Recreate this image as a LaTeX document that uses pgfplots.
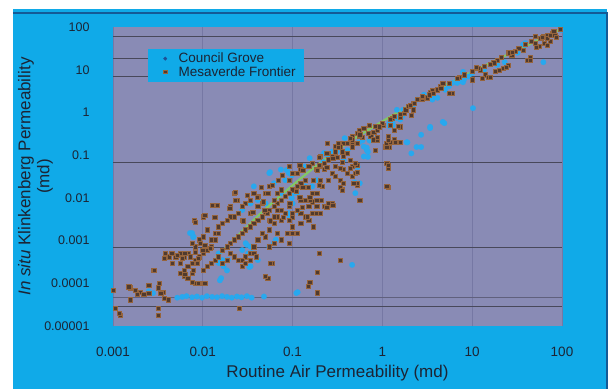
\documentclass[border=0pt]{standalone}
\usepackage{pgfplots}
\pgfplotsset{compat=1.18}
\usepackage{fontspec}
\setmainfont{Liberation Sans}
\definecolor{bgblue}{RGB}{16,170,232}
\definecolor{plotbg}{RGB}{137,139,181}
\definecolor{gridc}{RGB}{72,72,90}
\definecolor{gridl}{RGB}{96,96,125}
\definecolor{vgrid}{RGB}{118,120,164}
\definecolor{cgblue}{RGB}{40,168,238}
\definecolor{cgleg}{RGB}{30,80,150}
\definecolor{mvfill}{RGB}{80,58,46}
\definecolor{mvdraw}{RGB}{150,100,60}
\definecolor{fitgreen}{RGB}{130,200,100}
\definecolor{txt}{RGB}{28,36,52}
\definecolor{framec}{RGB}{20,90,150}
\begin{document}
\begin{tikzpicture}
\path[use as bounding box] (0pt,0pt) rectangle (615pt,389pt);
\fill[white] (0pt,0pt) rectangle (615pt,389pt);
\fill[bgblue] (13pt,0pt) rectangle (607pt,380pt);
\draw[framec, line width=1.2pt] (13pt,376pt) -- (607pt,376pt) -- (607pt,0pt);
\begin{axis}[
  at={(113pt,63pt)}, anchor=south west,
  scale only axis, width=449pt, height=299pt,
  xmode=log, ymode=log,
  xmin=0.001, xmax=100, ymin=0.00001, ymax=100,
  axis background/.style={fill=plotbg},
  axis line style={draw=none},
  major tick length=0pt, minor tick length=0pt,
  xtick={0.001,0.01,0.1,1,10,100},
  xticklabels={0.001,0.01,0.1,1,10,100},
  ytick={0.00001,0.0001,0.001,0.01,0.1,1,10,100},
  yticklabels={0.00001,0.0001,0.001,0.01,0.1,1,10,100},
  xmajorgrids=true,
  x grid style={draw=vgrid, line width=0.6pt},
  extra y ticks={59,18.6,6.8,0.069,0.0007,2.8e-5},
  extra y tick labels={},
  extra y tick style={ymajorgrids=true, grid style={draw=gridc, line width=0.9pt}},
  yticklabel style={font=\fontsize{12.5}{14}\selectfont, text=txt, xshift=-20pt},
  xticklabel style={font=\fontsize{13.5}{15}\selectfont, text=txt, yshift=-18pt},
  xlabel={Routine Air Permeability (md)},
  ylabel={\textit{In situ} Klinkenberg Permeability\\(md)},
  xlabel style={at={(axis description cs:0.5,0)}, anchor=center, yshift=-47pt, font=\fontsize{17}{19}\selectfont, text=txt},
  ylabel style={at={(axis description cs:-0.1726,0.5)}, anchor=center, align=center, font=\fontsize{17}{19}\selectfont, text=txt},
  legend style={at={(axis description cs:0.078,0.927)}, anchor=north west, fill=bgblue, draw=none,
    font=\fontsize{13.5}{14}\selectfont, text=txt, inner xsep=7pt, inner ysep=2.5pt, row sep=-1pt,
    nodes={inner sep=1.5pt}},
  legend cell align=left,
  legend image code/.code={\path[draw=none,fill=none] (0pt,-3pt) rectangle (22pt,3pt); \draw[#1, mark size=1.7pt] plot coordinates {(10pt,0pt)};},
]
\addplot[forget plot, draw=gridl, line width=0.7pt] coordinates {(0.001,4.8e-5) (100,4.8e-5)};
\addplot[only marks, mark=*, mark size=2.8pt, mark options={fill=cgblue, draw=cgblue, line width=0.1pt},
  legend image post style={mark options={fill=cgleg, draw=cgleg}}] coordinates {
(98,85) (39,38) (62,15) (32,25) (23,15) (19,13) (10,8.3) (7.9,5.1) (6.8,4.9) (4.1,2.2) (3.6,2)
(10.2,1.26) (4.7,0.6) (3.4,0.46) (39,42) (7.9,8.9) (6.8,5.8) (1.7,1.15) (1.45,1.15) (1.2,0.56)
(4.9,0.56) (3.4,0.43) (2.7,0.3) (2.7,0.155) (2.1,0.11) (1.9,0.2) (1.3,0.56) (1.2,0.48)
(0.72,0.22) (0.67,0.15) (0.69,0.091) (0.53,0.053) (0.49,0.023) (37,39) (13.5,10) (9.1,6.9)
(8.1,5.9) (7.4,5.4) (6,4.9) (5.5,4.1) (5,3.4) (1.74,0.95) (1.66,0.81) (1.58,0.68) (1.23,0.62)
(1.43,0.74) (2.15,1.38) (2.45,2.0) (3.7,2.4) (2.9,2.6)
(0.056,0.04) (0.086,0.045) (0.098,0.034) (0.1,0.0128) (0.098,0.0099) (0.12,0.0044) (0.093,0.0036)
(0.22,0.069) (0.155,0.085) (0.31,0.12) (0.41,0.13) (0.6,0.22) (0.67,0.13) (0.79,0.33) (0.56,0.022)
(0.38,0.25) (1.86,0.2) (2.4,0.155) (1.3,0.5)
(0.055,0.038) (0.074,0.046) (0.091,0.038) (0.083,0.026) (0.062,0.022) (0.037,0.0186) (0.041,0.0089)
(0.034,0.0074) (0.0275,0.0052) (0.05,0.0074) (0.074,0.0129) (0.1,0.0074) (0.091,0.0044)
(0.112,0.0129) (0.138,0.0186) (0.166,0.0186) (0.186,0.026) (0.138,0.054) (0.204,0.093)
(0.224,0.112) (0.275,0.12) (0.25,0.093) (0.37,0.078) (0.62,0.093) (0.62,0.158) (0.55,0.2)
(0.5,0.0129) (0.69,0.12)
(0.0076,0.0015) (0.0079,0.00123) (0.015,0.0005) (0.0166,0.00035) (0.015,0.0003) (0.017,0.00025)
(0.0186,0.0002) (0.016,0.000132) (0.0275,0.0006) (0.030,0.00087) (0.034,0.00072) (0.032,0.0005)
(0.034,0.00025) (0.041,0.00035) (0.062,0.00087) (0.065,0.00105) (0.055,0.00072) (0.0072,0.0015)
(0.0078,0.0012) (0.0155,0.0003) (0.019,0.00035) (0.0155,0.000117) (0.031,0.00079) (0.033,0.00024)
(0.035,0.00051)
(0.0052,0.000046) (0.0059,0.000048) (0.0066,0.00005) (0.0076,0.000047) (0.0086,0.000049)
(0.0098,0.000046) (0.0111,0.00005) (0.0127,0.000048) (0.0144,0.000047) (0.0164,0.00005)
(0.0186,0.000048) (0.021,0.000046) (0.024,0.000049) (0.027,0.000047) (0.031,0.00005)
(0.035,0.000046) (0.048,0.000049) (0.0028,0.000059) (0.0025,0.000065) (0.11,0.000059)
(0.114,0.000062) (0.46,0.00027)
};
\addlegendentry{Council Grove}
\addplot[only marks, mark=square*, mark size=2.1pt, mark options={fill=mvfill, draw=mvdraw, line width=0.5pt}] coordinates {
(95,87) (78,72) (68,63) (58,55) (50,60) (63,42) (74,46) (55,35) (45,46) (39,39) (33,32) (30,27)
(27.5,22) (25,25) (21,20) (19,17) (17.4,14.5) (15.8,13.2) (13.5,12) (12.3,10) (11.2,11) (10,9.1)
(14,7.6) (12.9,6.3) (18,9.1) (22,11) (25,13) (41,17) (50,42) (68,55) (81,79) (62,59) (83,65)
(69,38) (52,34) (44,19) (26,25) (20,9.8) (24,11.5) (15,6.8) (11.5,11) (10,5.8) (7.2,6.8) (6,2.8)
(4.4,4) (3.4,3) (2.8,2) (2.2,1.15) (2.1,0.87)
(1.2,0.15) (1.3,0.2) (1.12,0.066) (1.15,0.05) (1.15,0.018) (0.52,0.02) (0.53,0.058) (1.58,0.46)
(0.8,0.35) (0.87,0.22) (0.46,0.2) (0.44,0.077) (4.7,4.9) (5.6,2.8) (3.6,3.3) (2.8,2.3) (2.2,1.66)
(1.86,1.15) (1.58,0.78) (1.3,0.74) (1.02,0.5) (0.87,0.39) (0.72,0.33) (0.6,0.26) (0.52,0.19)
(11.2,11.5) (15.8,6.8) (44,17) (52,34) (74,65) (87,58) (60,58) (37,29) (28,26)
(1.23,0.68) (1.35,0.81) (1.58,0.89) (1.74,0.95) (1.82,1.15) (1.95,1.38) (2.04,1.5) (2.24,1.66)
(2.45,2.0) (2.75,2.4) (3.16,2.2) (3.3,2.6) (3.7,2.8) (4.07,3.4) (4.47,3.7) (5.5,4.9) (6.8,6.3) (8.1,7.6)
(0.55,0.39) (0.525,0.33) (0.46,0.275) (0.46,0.158) (0.41,0.112) (0.37,0.093) (0.62,0.43) (0.74,0.275)
(0.79,0.23) (0.83,0.132) (1.07,0.158) (1.12,0.19) (1.17,0.275) (1.23,0.2) (1.35,0.23) (1.58,0.2)
(1.12,0.065) (1.17,0.05) (1.12,0.0186) (1.23,0.51) (1.35,0.39) (1.51,0.47) (0.37,0.19) (0.46,0.23)
(0.55,0.275) (0.69,0.33) (0.83,0.47) (1.0,0.56) (0.3,0.158) (0.25,0.112) (0.204,0.093) (0.166,0.065)
(0.151,0.054) (0.186,0.046)
(0.34,0.158) (0.3,0.132) (0.275,0.093) (0.25,0.078) (0.224,0.065) (0.204,0.054) (0.224,0.046)
(0.275,0.038) (0.3,0.0316) (0.34,0.026) (0.355,0.0155) (0.37,0.022) (0.46,0.054) (0.5,0.065)
(0.525,0.022) (0.55,0.0089) (0.275,0.0074) (0.25,0.0069) (0.224,0.0063) (0.204,0.0089)
(0.186,0.0089) (0.166,0.0081) (0.186,0.0129) (0.214,0.0186) (0.204,0.026) (0.25,0.026) (0.3,0.054)
(0.37,0.046) (0.41,0.038) (0.46,0.0316) (0.48,0.022) (0.5,0.038) (0.34,0.05)
(0.138,0.026) (0.123,0.022) (0.112,0.0186) (0.1,0.0155) (0.091,0.0129) (0.083,0.0107) (0.074,0.0089)
(0.068,0.0074) (0.062,0.0063) (0.055,0.0052) (0.05,0.0044) (0.046,0.0036) (0.041,0.003)
(0.037,0.0026) (0.034,0.0021) (0.030,0.0018) (0.0275,0.0015) (0.025,0.00123) (0.0224,0.00105)
(0.0204,0.00087) (0.0186,0.00072) (0.0166,0.0006)
(0.138,0.0089) (0.166,0.0129) (0.151,0.0063) (0.123,0.0044) (0.112,0.0052) (0.1,0.0036)
(0.091,0.0063) (0.083,0.0044) (0.074,0.003) (0.068,0.0036) (0.062,0.0026) (0.055,0.0018)
(0.05,0.00123) (0.046,0.0015) (0.041,0.00105) (0.037,0.00072) (0.034,0.0005) (0.030,0.00042)
(0.0275,0.00035) (0.037,0.0005) (0.055,0.00072) (0.062,0.00087) (0.091,0.00087) (0.087,0.0015)
(0.112,0.0015) (0.138,0.0036) (0.123,0.0089) (0.166,0.0044) (0.074,0.00105) (0.068,0.0015)
(0.055,0.003) (0.062,0.0036) (0.074,0.0052) (0.091,0.003) (0.1,0.0021) (0.123,0.0026) (0.151,0.003)
(0.186,0.0044) (0.158,0.0089) (0.204,0.0044) (0.25,0.0074) (0.186,0.0063)
(0.055,0.0186) (0.05,0.0129) (0.041,0.0107) (0.037,0.0129) (0.034,0.0089) (0.030,0.0074)
(0.0275,0.0063) (0.0224,0.0129) (0.024,0.0089) (0.025,0.0044) (0.0204,0.0036) (0.0186,0.003)
(0.0166,0.0026) (0.015,0.0021) (0.0138,0.0015) (0.0123,0.00105) (0.0112,0.0018) (0.0102,0.00123)
(0.0091,0.00105) (0.0102,0.0036) (0.0224,0.0036) (0.0204,0.0063) (0.0275,0.003) (0.034,0.0044)
(0.041,0.0063) (0.046,0.0074) (0.062,0.0089) (0.068,0.0129) (0.074,0.0155) (0.091,0.026)
(0.1,0.038) (0.112,0.038) (0.123,0.046) (0.091,0.054)
(0.245,0.19) (0.32,0.19) (0.41,0.19) (0.44,0.25) (0.56,0.3) (0.87,0.26) (1.15,0.22) (1.38,0.2)
(0.93,0.46) (0.72,0.5) (1.12,0.15) (1.15,0.058) (0.3,0.12) (0.31,0.091) (0.36,0.069) (0.44,0.05)
(0.52,0.04) (0.34,0.018) (0.36,0.015) (0.56,0.0089) (0.2,0.091) (0.24,0.053) (0.19,0.045)
(0.17,0.026) (0.2,0.02) (0.21,0.0089) (0.24,0.006) (0.28,0.0068) (0.155,0.0105) (0.15,0.018)
(0.13,0.018) (0.12,0.0105) (0.11,0.014) (0.093,0.0076) (0.127,0.006) (0.145,0.0036) (0.1,0.0044)
(0.17,0.0021) (0.078,0.0035) (0.067,0.0052) (0.056,0.0029) (0.052,0.0044) (0.12,0.059) (0.13,0.045)
(0.076,0.034) (0.069,0.026) (0.059,0.02) (0.053,0.0128) (0.047,0.0081) (0.24,0.11) (0.28,0.085)
(0.32,0.15) (0.36,0.12) (0.2,0.059)
(0.023,0.0138) (0.031,0.0117) (0.04,0.0105) (0.045,0.018) (0.0145,0.0068) (0.0127,0.0068)
(0.0081,0.003) (0.0105,0.0039) (0.0136,0.0035) (0.02,0.0057) (0.023,0.0088) (0.028,0.0029)
(0.036,0.0046) (0.049,0.0052)
(0.015,0.0015) (0.0138,0.00105) (0.0123,0.00072) (0.0112,0.0006) (0.0102,0.0005) (0.0091,0.00042)
(0.0083,0.00035) (0.0076,0.0003) (0.0068,0.0005) (0.0062,0.00042) (0.0056,0.0005) (0.005,0.00042)
(0.0046,0.0005) (0.0042,0.00042) (0.0037,0.00039) (0.0068,0.00025) (0.0062,0.0002) (0.0056,0.00017)
(0.0062,0.000145) (0.0068,0.000132) (0.0076,0.00017) (0.0083,0.0001) (0.0091,0.0001) (0.0102,0.0002)
(0.0112,0.00025) (0.0123,0.0003) (0.0138,0.00035) (0.015,0.00042) (0.0166,0.0003) (0.0186,0.00035)
(0.0204,0.0005) (0.0224,0.00042) (0.025,0.00035) (0.0275,0.00025) (0.030,0.0003) (0.034,0.00035)
(0.039,0.00042) (0.0083,0.00072) (0.0076,0.00087) (0.0056,0.0003) (0.0046,0.0003)
(0.0038,0.00051) (0.0045,0.00051) (0.0052,0.00046) (0.0059,0.00039) (0.0063,0.00051) (0.0072,0.00042)
(0.0082,0.00053) (0.0089,0.00039) (0.01,0.0006) (0.0093,0.00088) (0.0105,0.00079) (0.012,0.00066)
(0.0086,0.0003) (0.0078,0.0002) (0.0063,0.00016) (0.0076,0.000107) (0.0089,0.0001) (0.0105,0.0001)
(0.0028,0.0002) (0.0033,0.0001) (0.0032,0.000079) (0.0036,0.000063) (0.0041,0.000041)
(0.0032,0.000026) (0.0032,0.0000178) (0.00155,0.000079) (0.00176,0.00007) (0.002,0.000063)
(0.00185,0.000055) (0.0022,0.000055) (0.00155,0.000041) (0.00105,0.000026) (0.0012,0.0000178)
(0.001,0.00007) (0.0025,0.000091) (0.0257,0.000026)
(0.0029,0.0002) (0.0034,0.000059) (0.0037,0.000045) (0.0025,0.000059) (0.0015,0.000083) (0.00118,0.00002)
(0.2,0.00051) (0.34,0.00035) (0.19,0.00018) (0.155,0.000107) (0.15,0.000087) (0.19,0.00006)
(0.053,0.000134) (0.1,0.0015) (0.059,0.0003) (0.0082,0.0027) (0.056,0.0003) (0.05,0.000145)
};
\addlegendentry{Mesaverde Frontier}
\addplot[forget plot, smooth, fitgreen, line width=2.2pt] coordinates {
(0.014,0.0004) (0.045,0.0045) (0.15,0.04) (0.45,0.22) (3,2.4) (10,9) (97,88)
};
\end{axis}
\end{tikzpicture}
\end{document}
